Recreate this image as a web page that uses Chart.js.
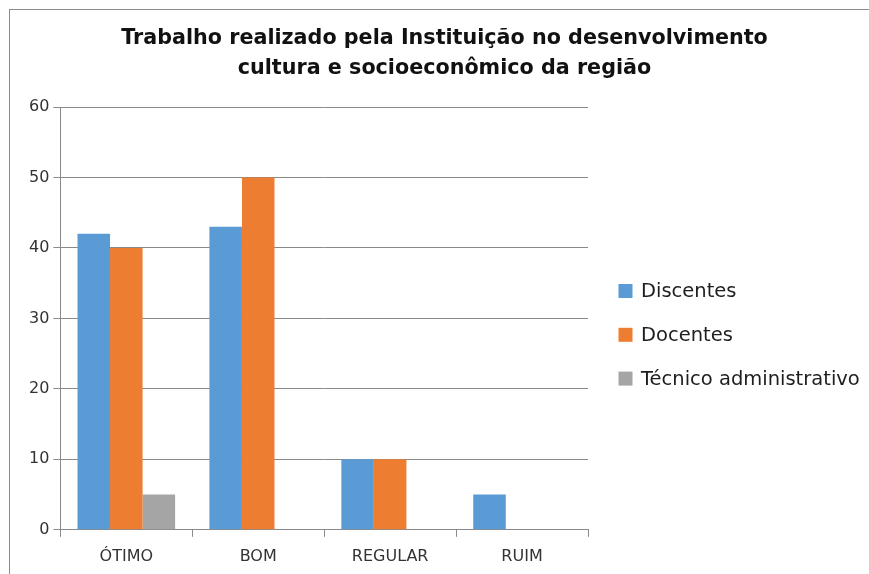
<!DOCTYPE html>
<html>
<head>
<meta charset="utf-8">
<script src="https://cdn.jsdelivr.net/npm/chart.js@4"></script>
<style>
    html, body { margin: 0; background: #fff; overflow: hidden; }
    #frame { position: absolute; left: 9px; top: 9px; width: 900px; height: 600px; border: 1px solid #8c8c8c; }
    #wrap { position: absolute; left: 0; top: 0; width: 869px; height: 576px; }
</style>
</head>
<body>
<div id="frame"></div>
<div id="wrap"><canvas id="chart"></canvas></div>
<script>
const categories = ['ÓTIMO', 'BOM', 'REGULAR', 'RUIM'];
const discentes = [42, 43, 10, 5];
const docentes = [40, 50, 10, 0];
const tecnicos = [5, 0, 0, 0];
const yTicks = [0, 10, 20, 30, 40, 50, 60];

const gridColor = '#8a8a8a';
const font = 'DejaVu Sans';

// the built-in legend can only take a quarter of the width, so it is drawn here
const sideLegend = {
    id: 'sideLegend',
    afterDraw(chart, args, opts) {
        const { ctx, chartArea } = chart;
        ctx.save();
        ctx.font = `${opts.size}px "${font}"`;
        ctx.textBaseline = 'middle';
        chart.data.datasets.forEach((ds, i) => {
            const x = chartArea.right + opts.offsetX;
            const y = chartArea.top + opts.offsetY + i * opts.spacing;
            ctx.fillStyle = ds.backgroundColor;
            ctx.fillRect(x, y - opts.box / 2, opts.box, opts.box);
            ctx.fillStyle = '#1e1e1e';
            ctx.fillText(ds.label, x + 22.5, y + 1);
        });
        ctx.restore();
    }
};

document.addEventListener('DOMContentLoaded', () => {
    new Chart(document.getElementById('chart'), {
        type: 'bar',
        data: {
            labels: categories,
            datasets: [
                { label: 'Discentes', data: discentes, backgroundColor: '#5b9bd5' },
                { label: 'Docentes', data: docentes, backgroundColor: '#ed7d31' },
                { label: 'Técnico administrativo', data: tecnicos, backgroundColor: '#a5a5a5' }
            ]
        },
        plugins: [sideLegend],
        options: {
            responsive: true,
            maintainAspectRatio: false,
            animation: false,
            datasets: { bar: { categoryPercentage: 0.74, barPercentage: 1, borderWidth: 0 } },
            layout: { padding: { left: 25, right: 5, top: 0, bottom: 0 } },
            plugins: {
                tooltip: { enabled: false },
                legend: { display: false },
                sideLegend: { size: 19.5, box: 14, offsetX: 30.5, offsetY: 184, spacing: 43.8 },
                title: {
                    display: true,
                    text: ['Trabalho realizado pela Instituição no desenvolvimento', 'cultura e socioeconômico da região'],
                    color: '#111',
                    font: { family: font, size: 20.7, weight: 'bold', lineHeight: '30px' },
                    padding: { top: 24, bottom: 23 }
                }
            },
            scales: {
                x: {
                    grid: { offset: true, drawOnChartArea: false, drawTicks: true, tickLength: 7, color: gridColor },
                    border: { display: true, color: gridColor },
                    ticks: { color: '#333', padding: 10, font: { family: font, size: 16 } }
                },
                y: {
                    min: 0,
                    max: 60,
                    afterBuildTicks: scale => { scale.ticks = yTicks.map(v => ({ value: v })); },
                    grid: { color: gridColor, tickLength: 7 },
                    border: { display: true, color: gridColor },
                    ticks: { color: '#333', padding: 4, font: { family: font, size: 16 } }
                },
                // empty axis that keeps room for the legend on the right
                legendSpace: {
                    type: 'linear',
                    position: 'right',
                    min: 0,
                    max: 60,
                    grid: { display: false },
                    border: { display: false },
                    ticks: { display: false },
                    afterFit: scale => { scale.width = 276; }
                }
            }
        }
    });
});
</script>
</body>
</html>
